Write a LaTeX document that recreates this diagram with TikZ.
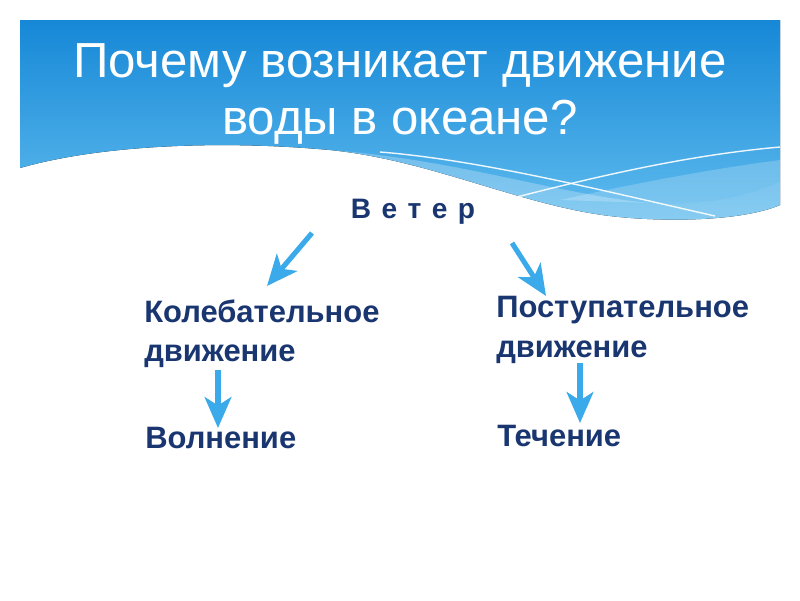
\documentclass[tikz,border=0pt]{standalone}
\usepackage{fontspec}
\setmainfont{Liberation Sans}
\usetikzlibrary{arrows.meta}

\definecolor{skytop}{RGB}{22,136,215}
\definecolor{skybot}{RGB}{96,188,238}
\definecolor{navy}{RGB}{26,54,112}
\definecolor{arrowblue}{RGB}{58,170,234}

\tikzset{
  kindtext/.style={anchor=west,inner sep=0pt,align=left,text=navy,
    font=\fontsize{22}{28}\selectfont\bfseries},
  flow/.style={draw=arrowblue,line width=3.6pt,
    -{Stealth[length=22pt,width=19pt,inset=6pt]}}
}

\begin{document}
\begin{tikzpicture}[x=0.025cm,y=-0.025cm]
   \useasboundingbox (0,0) rectangle (800,600);
   \fill[white] (0,0) rectangle (800,600);

   % banner
   \fill[top color=skytop,bottom color=skybot]
   (20,20) -- (780,20) -- (780,205)
   .. controls (740,222) and (660,222) .. (610,216)
   .. controls (520,205) and (430,160) .. (330,150)
   .. controls (220,140) and (100,145) .. (20,168) -- cycle;
   \fill[white,opacity=.25]
   (330,150) .. controls (460,160) and (560,195) .. (650,203)
   .. controls (710,206) and (750,196) .. (780,182) -- (780,205)
   .. controls (740,222) and (660,222) .. (610,216)
   .. controls (520,205) and (430,160) .. (330,150);
   \fill[white,opacity=.2]
   (560,200) .. controls (650,180) and (720,168) .. (780,160) -- (780,182)
   .. controls (750,196) and (710,206) .. (650,203) -- cycle;
   \draw[white,line width=1pt,opacity=.9]
   (380,152) .. controls (480,160) and (600,190) .. (715,216);
   \draw[white,line width=1pt,opacity=.9]
   (490,204) .. controls (600,175) and (690,155) .. (780,147);

   %%%%%%%%%%
   \node (title) at (400,94) [align=center,text=white,
     font=\fontsize{35}{40}\selectfont]
     {Почему возникает движение\\воды в океане?};

   \node (wind) at (413,212) [text=navy,inner sep=0pt,
     font=\fontsize{20}{22}\selectfont\bfseries]
     {\spaceskip=0.37em В е т е р};

   \node (osc) at (144,334) [kindtext] {Колебательное\\движение};
   \node (trans) at (496,330) [kindtext] {Поступательное\\движение};
   \node (waves) at (145,438) [kindtext] {Волнение};
   \node (current) at (497,436) [kindtext] {Течение};

   %%%%%%%%%%
   \coordinate (oscin) at (267,286);
   \coordinate (windl) at (312,233);
   \coordinate (windr) at (512,243);
   \coordinate (transin) at (546,296);
   \coordinate (oscout) at (218,370);
   \coordinate (wavesin) at (218,428);
   \coordinate (transout) at (580,363);
   \coordinate (currentin) at (580,423);

   \draw[flow] (windl) -- (oscin);
   \draw[flow] (windr) -- (transin);
   \draw[flow] (oscout) -- (wavesin);
   \draw[flow] (transout) -- (currentin);
\end{tikzpicture}
\end{document}
